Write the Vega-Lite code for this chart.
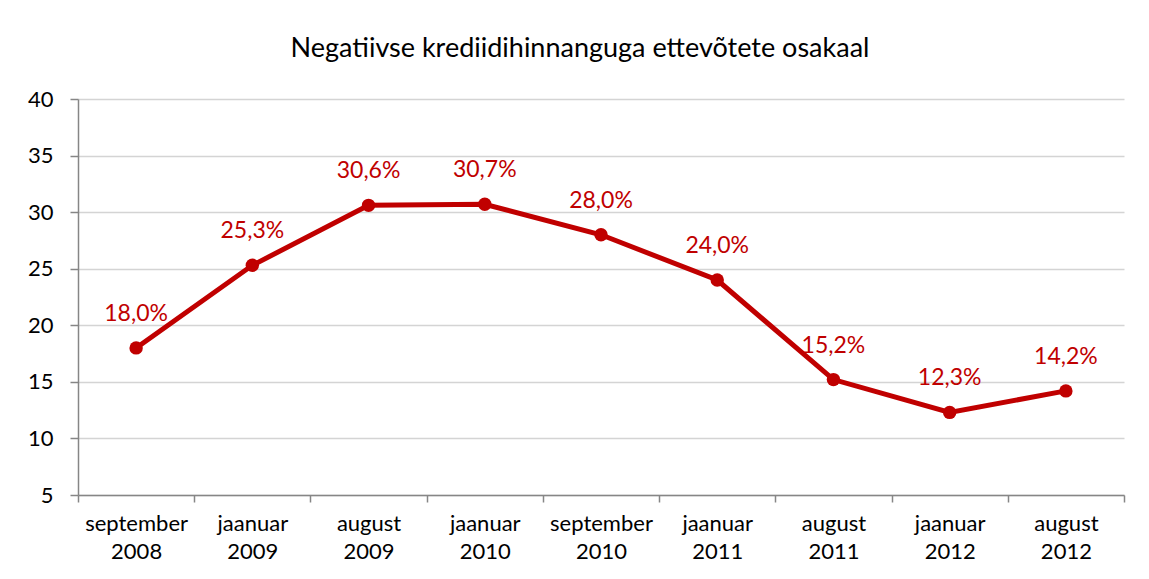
{
  "$schema": "https://vega.github.io/schema/vega-lite/v6.json",
  "width": 1046,
  "height": 396,
  "autosize": "none",
  "padding": {"left": 78, "top": 99, "right": 25, "bottom": 84},
  "background": "white",
  "config": {
    "font": "Lato",
    "view": {"stroke": null},
    "locale": {"number": {"decimal": ",", "thousands": " ", "grouping": [3], "currency": ["", " €"]}}
  },
  "title": {
    "text": "Negatiivse krediidihinnanguga ettevõtete osakaal",
    "fontSize": 27,
    "font": "Lato",
    "fontWeight": "normal",
    "color": "#000000",
    "anchor": "middle",
    "baseline": "alphabetic",
    "offset": 4,
    "dx": -21
  },
  "data": {
    "values": [
      {"period": "september\n2008", "value": 18.0},
      {"period": "jaanuar\n2009", "value": 25.3},
      {"period": "august\n2009", "value": 30.6},
      {"period": "jaanuar\n2010", "value": 30.7},
      {"period": "september\n2010", "value": 28.0},
      {"period": "jaanuar\n2011", "value": 24.0},
      {"period": "august\n2011", "value": 15.2},
      {"period": "jaanuar\n2012", "value": 12.3},
      {"period": "august\n2012", "value": 14.2}
    ]
  },
  "encoding": {
    "x": {
      "field": "period",
      "type": "ordinal",
      "sort": null,
      "scale": {"type": "band", "paddingInner": 0, "paddingOuter": 0},
      "axis": {
        "title": null,
        "labelAngle": 0,
        "labelExpr": "split(datum.label, '\\n')",
        "labelFontSize": 22,
        "labelColor": "#000000",
        "labelLineHeight": 28,
        "labelPadding": 11,
        "labelBaseline": "top",
        "tickBand": "extent",
        "tickSize": 7,
        "tickColor": "#868686",
        "tickWidth": 1.5,
        "domainColor": "#868686",
        "domainWidth": 1.5,
        "grid": false
      }
    },
    "y": {
      "field": "value",
      "type": "quantitative",
      "scale": {"domain": [5, 40], "nice": false, "zero": false},
      "axis": {
        "title": null,
        "values": [5, 10, 15, 20, 25, 30, 35, 40],
        "labelFontSize": 22,
        "labelColor": "#000000",
        "labelPadding": 17,
        "tickSize": 8,
        "tickColor": "#868686",
        "tickWidth": 1.5,
        "domainColor": "#868686",
        "domainWidth": 1.5,
        "grid": true,
        "gridColor": "#d4d4d4",
        "gridWidth": 1.5
      }
    }
  },
  "layer": [
    {
      "mark": {"type": "line", "color": "#C00000", "strokeWidth": 5}
    },
    {
      "mark": {"type": "point", "filled": true, "color": "#C00000", "size": 180, "opacity": 1}
    },
    {
      "transform": [{"calculate": "format(datum.value, '.1f') + '%'", "as": "label"}],
      "mark": {"type": "text", "color": "#C00000", "fontSize": 23, "baseline": "bottom", "dy": -22},
      "encoding": {"text": {"field": "label"}}
    }
  ]
}
